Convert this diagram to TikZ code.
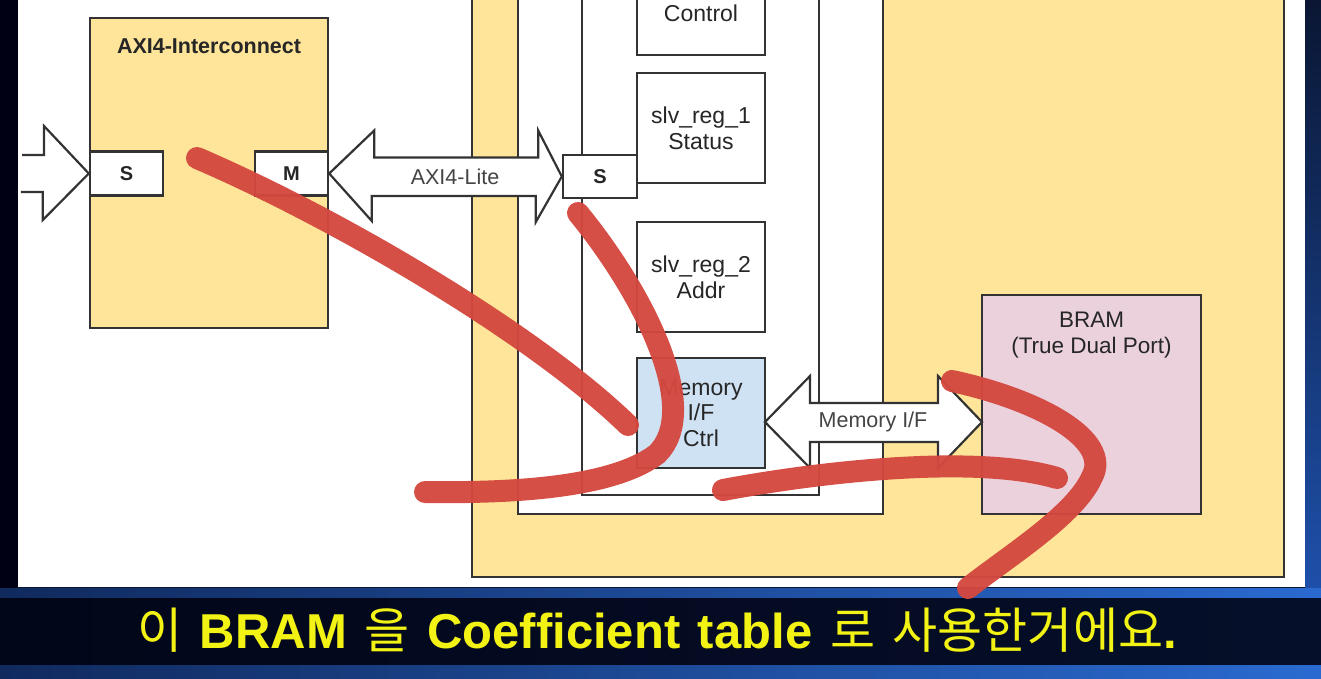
\documentclass[tikz,border=0pt]{standalone}
\usepackage{fontspec}
\setmainfont{Liberation Sans}
\newfontfamily\kr{Noto Sans CJK KR}
\definecolor{ipy}{HTML}{FFE599}
\definecolor{bdr}{HTML}{333333}
\definecolor{memc}{HTML}{CFE2F3}
\definecolor{bramc}{HTML}{EAD1DC}
\definecolor{redc}{HTML}{D4483F}
\definecolor{navy}{HTML}{0A1633}
\definecolor{subyel}{HTML}{F2F214}
\definecolor{lblgray}{HTML}{444444}
\begin{document}
\begin{tikzpicture}[x=1pt,y=-1pt,
  box/.style={draw=bdr, line width=2.4, inner sep=0pt},
  regtext/.style={font=\fontsize{23}{26}\selectfont, align=center, text=black!85},
  porttext/.style={font=\fontsize{20}{24}\selectfont\bfseries, text=black!85},
  hollow/.style={draw=bdr, line width=2.2, fill=white, line join=miter},
  arrlbl/.style={font=\fontsize{21.5}{24}\selectfont, text=lblgray},
  hl/.style={draw=redc, line width=22, line cap=round, opacity=0.96}]
\useasboundingbox (0,0) rectangle (1321,678);
\begin{scope}
\clip (0,0) rectangle (1321,678);
% ---------- background ----------
\fill[navy] (0,0) rectangle (1321,678);
\fill[black!92!blue] (0,0) rectangle (18,590);
\shade[top color=navy, bottom color={rgb,255:red,30;green,80;blue,170}] (1305,0) rectangle (1321,590);
\shade[left color={rgb,255:red,16;green,42;blue,94}, right color={rgb,255:red,42;green,106;blue,208}] (0,588) rectangle (1321,678);
\fill[black!95!blue, opacity=0.85] (0,598) rectangle (1321,665);
\fill[white] (18,0) rectangle (1305,587);
% ---------- IP block ----------
\node[box, fill=ipy, minimum width=812, minimum height=600] (ip) at (878,277) {};
\node[box, fill=white, minimum width=365, minimum height=540] (wbox) at (700.5,244) {};
\node[box, fill=white, minimum width=237, minimum height=520] (ibox) at (700.5,235) {};
\node[box, fill=white, minimum width=128, minimum height=110] (ctrl) at (701,0) {};
\node[regtext] (ctrltxt) at (701,13) {Control};
\node[box, fill=white, minimum width=128, minimum height=110, regtext] (reg1) at (701,128) {slv\_reg\_1\\Status};
\node[box, fill=white, minimum width=128, minimum height=110, regtext] (reg2) at (701,277) {slv\_reg\_2\\Addr};
\node[box, fill=memc, minimum width=128, minimum height=110, regtext, font=\fontsize{23}{25.5}\selectfont] (mem) at (701,413) {Memory\\I/F\\Ctrl};
\node[box, fill=white, minimum width=74, minimum height=43, porttext] (sr) at (600,176.5) {S};
\node[box, fill=bramc, minimum width=219, minimum height=219] (bram) at (1091.5,404.5) {};
\node[regtext, anchor=north, font=\fontsize{22.5}{26}\selectfont, text=black!85] (bramtxt) at (1091.5,308) {BRAM\\(True Dual Port)};
% ---------- AXI4 interconnect ----------
\node[box, fill=ipy, minimum width=238, minimum height=310] (axi) at (209,173) {};
\node[font=\fontsize{21.5}{24}\selectfont\bfseries, text=black!85] (axitxt) at (209,46) {AXI4-Interconnect};
\node[box, fill=white, minimum width=73, minimum height=44, porttext] (sl) at (126.5,173.5) {S};
\node[box, fill=white, minimum width=73, minimum height=44, porttext] (m) at (291.5,173.5) {M};
% ---------- hollow arrows ----------
\coordinate (inL) at (22,173.5);
\draw[hollow] (inL) ++(0,-18.5) -- ++(22,0) -- ++(0,-29) -- (sl.west) -- ++(-46,46.5) -- ++(0,-28) -- ++(-22,0);
\draw[hollow] (m.east) -- ++(45,-43) -- ++(0,27) -- ++(164,0) -- ++(0,-27) -- (sr.west) -- ++(-26,45.5) -- ++(0,-26) -- ++(-164,0) -- ++(0,25) -- cycle;
\node[arrlbl] (axilite) at (455,177) {AXI4-Lite};
\coordinate (mifL) at (765,422);
\coordinate (mifR) at (982,422);
\draw[hollow] (mifL) -- ++(45,-46) -- ++(0,27) -- ++(128,0) -- ++(0,-27) -- (mifR) -- ++(-44,46) -- ++(0,-26) -- ++(-128,0) -- ++(0,26) -- cycle;
\node[arrlbl] (miflbl) at (873,422) {Memory I/F};
% ---------- red annotation strokes ----------
\draw[hl] (197,158) .. controls (330,215) and (530,330) .. (628,425);
\draw[hl] (578,213) .. controls (645,295) and (702,410) .. (657,454) .. controls (610,490) and (500,493) .. (425,492);
\draw[hl] (723,490) .. controls (830,470) and (980,455) .. (1057,478);
\draw[hl] (952,381) .. controls (1040,400) and (1112,440) .. (1092,477) .. controls (1075,515) and (1010,555) .. (968,588);
% ---------- subtitle ----------
\node[anchor=base, text=subyel, inner sep=0pt] (sub) at (657,648)
  {\fontsize{49}{56}\selectfont\spaceskip=0.36em plus 0.1em{\kr 이} {\bfseries BRAM} {\kr 을} {\bfseries Coefficient table} {\kr 로 사용한거에요}{\bfseries .}};
\end{scope}
\end{tikzpicture}
\end{document}
